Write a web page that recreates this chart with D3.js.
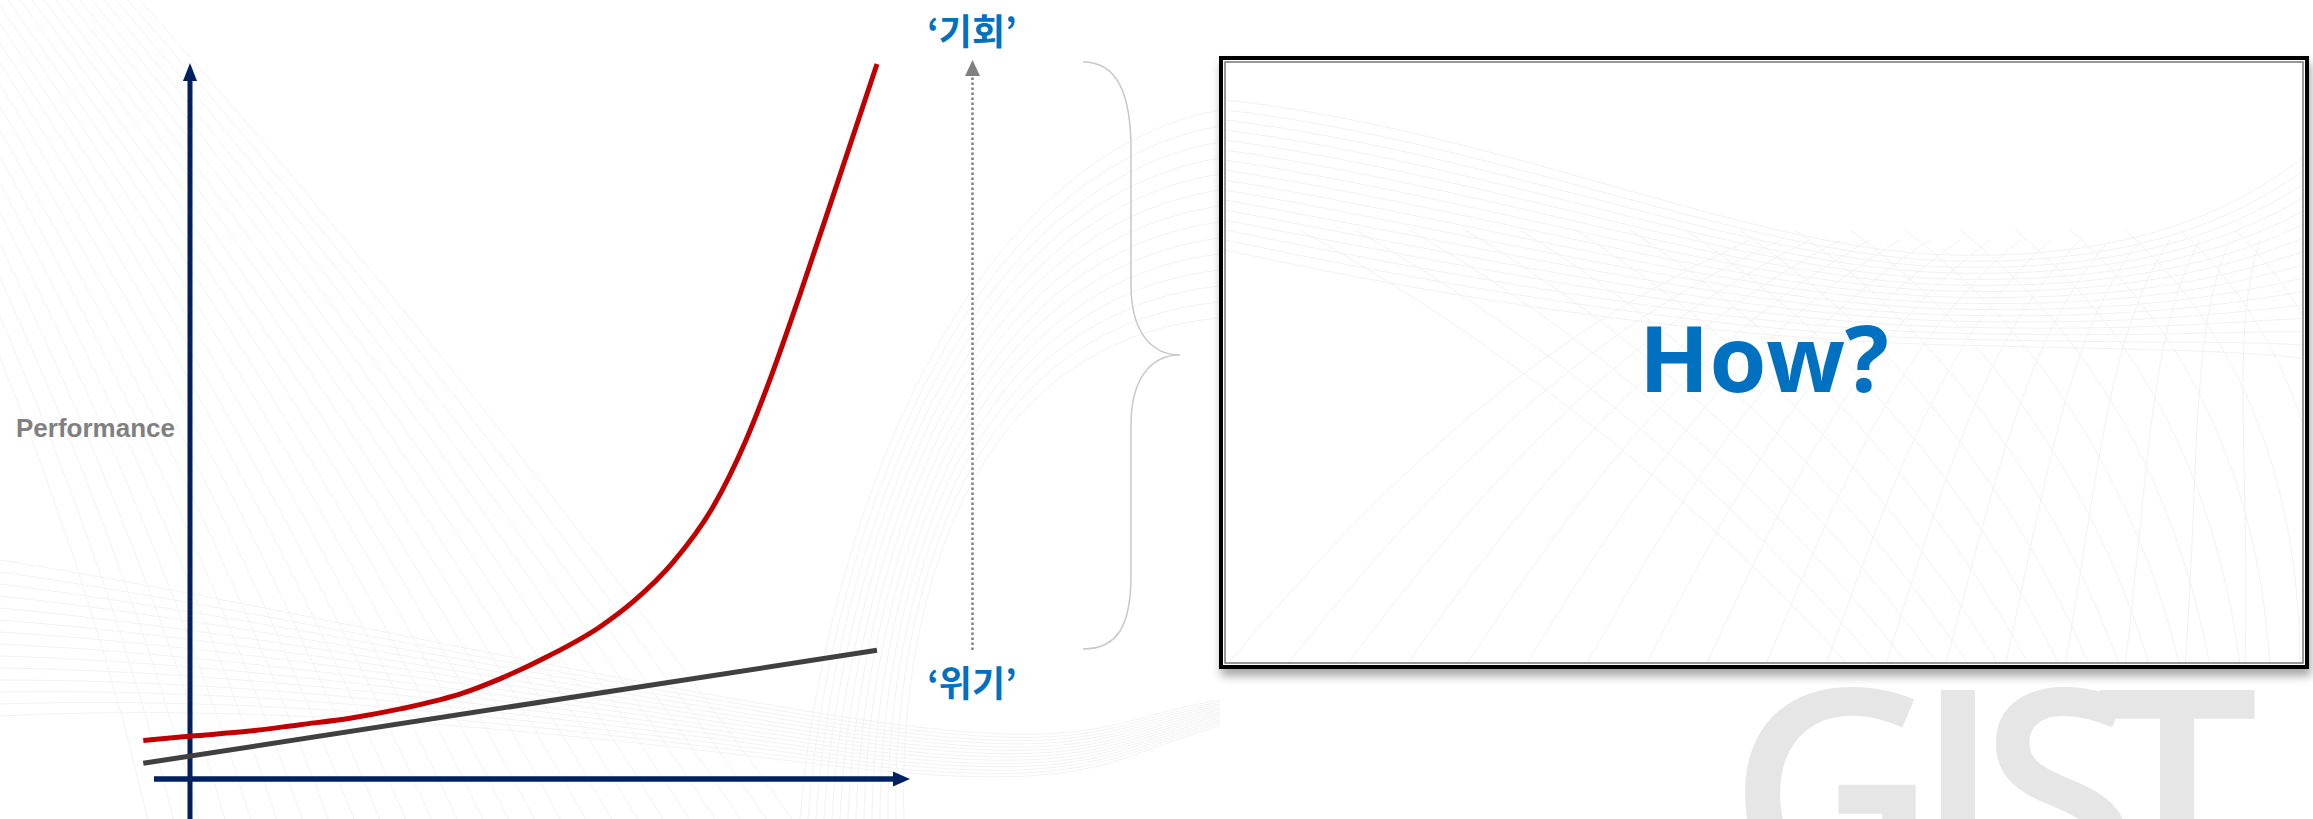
<!DOCTYPE html>
<html>
  <head>
    <title>Performance curve</title>
    <script src="https://d3js.org/d3.v7.min.js"></script>
    <style>
      body { margin: 0; background: #fff; }
      .ylabel { font-family: "Liberation Sans", Arial, sans-serif; font-weight: bold; font-size: 26px; fill: #808080; }
      .ko { font-family: "Noto Sans CJK KR", sans-serif; font-weight: bold; font-size: 36px; fill: #0070c0; }
      .how { font-family: "Open Sans", sans-serif; font-weight: 700; font-size: 92px; fill: #0070c0; }
      .mark { font-family: "Open Sans", sans-serif; font-weight: 600; font-size: 290px; fill: #e6e6e6; }
    </style>
  </head>
  <body>
    <svg width="2313" height="819"></svg>
    <script>
      // curve values (x, y in 0..100 plot units)
      const redX = [-6.8, 0.2, 8.7, 16.0, 23.3, 30.6, 39.7, 45.1, 52.4, 59.7, 64.5, 70.3, 76.1, 80.8, 84.7, 88.8, 93.9, 100];
      const redY = [5.4, 6.0, 6.7, 7.6, 8.5, 9.8, 12.0, 14.0, 17.3, 21.3, 24.8, 30.3, 38.0, 47.1, 56.6, 67.8, 82.4, 100];
      const greyX = [-6.8, 100];
      const greyY = [2.2, 18.0];
      const labels = { y: "Performance", top: "‘기회’", bottom: "‘위기’", box: "How?", mark: "GIST" };
      const markCenters = [1833, 1958, 2059, 2177];

      const svg = d3.select("svg");
      const x = d3.scaleLinear().domain([0, 100]).range([190, 877]);
      const y = d3.scaleLinear().domain([0, 100]).range([779, 64]);

      const defs = svg.append("defs");
      defs.append("filter").attr("id", "shadow")
          .attr("x", "-5%").attr("y", "-5%").attr("width", "110%").attr("height", "115%")
        .append("feDropShadow")
          .attr("dx", 2).attr("dy", 7).attr("stdDeviation", 5)
          .attr("flood-color", "#000").attr("flood-opacity", 0.35);

      // faint decorative background lines
      const bg = svg.append("g").attr("fill", "none").attr("stroke", "#ededed").attr("stroke-width", 1).attr("opacity", 0.7);
      d3.range(26).forEach(i => {
        bg.append("path").attr("d",
          `M${-160 + i * 12},0 C${-40 + i * 16},${250} ${80 + i * 20},${520} ${150 + i * 26},${830}`);
      });
      d3.range(14).forEach(i => {
        bg.append("path").attr("d",
          `M0,${560 + i * 12} C${250},${600 + i * 8} ${500},${660 + i * 5} ${800},${710 + i * 4} S${1100},${720 + i * 3} ${1220},${700 + i * 2}`);
      });
      d3.range(14).forEach(i => {
        bg.append("path").attr("d",
          `M${800 + i * 8},${819} C${820 + i * 6},${560 + i * 6} ${950},${160 + i * 14} ${1220},${110 + i * 16}`);
      });

      // watermark, one glyph per listed centre
      svg.append("text").attr("class", "mark").attr("text-anchor", "middle")
        .attr("x", markCenters.join(" ")).attr("y", 897).text(labels.mark);

      // box with double border and shadow
      svg.append("rect").attr("x", 1221).attr("y", 58).attr("width", 1086).attr("height", 609)
        .attr("fill", "#fff").attr("stroke", "#000").attr("stroke-width", 4).attr("filter", "url(#shadow)");
      defs.append("clipPath").attr("id", "boxclip").append("rect")
        .attr("x", 1225).attr("y", 62).attr("width", 1078).attr("height", 601);
      const bg2 = svg.append("g").attr("fill", "none").attr("stroke", "#eeeeee").attr("stroke-width", 1)
        .attr("opacity", 0.8).attr("clip-path", "url(#boxclip)");
      d3.range(16).forEach(i => {
        bg2.append("path").attr("d",
          `M1225,${100 + i * 10} C1500,${130 + i * 12} 1750,${250 + i * 6} 1950,${255 + i * 6} S2250,${200 + i * 10} 2313,${150 + i * 14}`);
      });
      d3.range(18).forEach(i => {
        bg2.append("path").attr("d",
          `M${1225 + i * 60},${667} C${1400 + i * 50},${460} ${1550 + i * 40},${330} ${1750 + i * 30},${240}`);
        bg2.append("path").attr("d",
          `M${1300 + i * 55},${230} C${1500 + i * 50},${340} ${1700 + i * 40},${500} ${1850 + i * 30},${667}`);
      });
      svg.append("rect").attr("x", 1225).attr("y", 62).attr("width", 1078).attr("height", 601)
        .attr("fill", "none").attr("stroke", "#777").attr("stroke-width", 1.5);
      svg.append("text").attr("class", "how").attr("x", 1764).attr("y", 392)
        .attr("text-anchor", "middle").text(labels.box);

      // axes with arrowheads
      const navy = "#002060";
      svg.append("line").attr("x1", x(0)).attr("x2", x(0)).attr("y1", 819).attr("y2", y(100) + 14)
        .attr("stroke", navy).attr("stroke-width", 5);
      svg.append("path").attr("d", `M${x(0)},${y(100) - 1} L${x(0) + 7},${y(100) + 17} L${x(0) - 7},${y(100) + 17}Z`).attr("fill", navy);
      svg.append("line").attr("x1", 154).attr("x2", 896).attr("y1", y(0)).attr("y2", y(0))
        .attr("stroke", navy).attr("stroke-width", 5.5);
      svg.append("path").attr("d", `M910,${y(0)} L893,${y(0) - 7.5} L893,${y(0) + 7.5}Z`).attr("fill", navy);

      svg.append("text").attr("class", "ylabel").attr("x", 16).attr("y", 437).text(labels.y);

      // series
      const line = d3.line().x(d => x(d[0])).y(d => y(d[1]));
      svg.append("path").datum(greyX.map((v, i) => [v, greyY[i]]))
        .attr("d", line).attr("fill", "none").attr("stroke", "#404040").attr("stroke-width", 5);
      svg.append("path").datum(redX.map((v, i) => [v, redY[i]]))
        .attr("d", line.curve(d3.curveMonotoneX)).attr("fill", "none").attr("stroke", "#c00000").attr("stroke-width", 5);

      // dotted arrow between crisis and opportunity
      svg.append("line").attr("x1", 972.5).attr("x2", 972.5).attr("y1", 650).attr("y2", 74)
        .attr("stroke", "#808080").attr("stroke-width", 2.5).attr("stroke-dasharray", "2.5,2.5");
      svg.append("path").attr("d", "M972.5,60 L980,76 L965,76Z").attr("fill", "#808080");
      svg.append("text").attr("class", "ko").attr("x", 972).attr("y", 45).attr("text-anchor", "middle").text(labels.top);
      svg.append("text").attr("class", "ko").attr("x", 972).attr("y", 697).attr("text-anchor", "middle").text(labels.bottom);

      // brace
      svg.append("path")
        .attr("d", "M1083,62 C1118,62 1131,95 1131,150 L1131,285 C1131,330 1150,355 1180,355 C1150,355 1131,380 1131,425 L1131,575 C1131,625 1118,649 1083,649")
        .attr("fill", "none").attr("stroke", "#c8c8c8").attr("stroke-width", 1.5);
    </script>
  </body>
</html>
